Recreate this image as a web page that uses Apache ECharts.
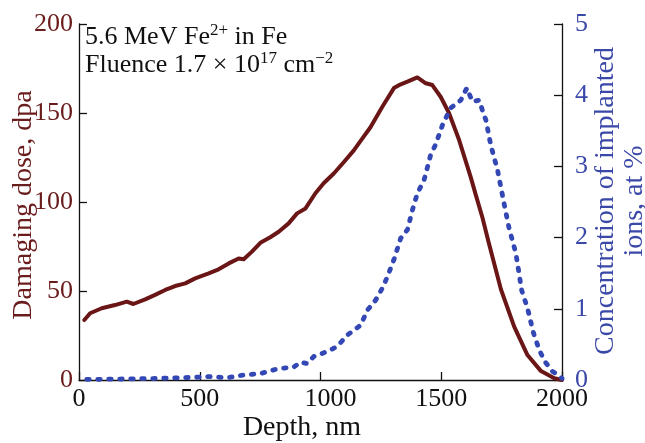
<!DOCTYPE html>
<html>
<head>
<meta charset="utf-8">
<script src="https://cdn.jsdelivr.net/npm/echarts@6/dist/echarts.min.js"></script>
<style>html,body{margin:0;padding:0;background:#fff;}#c{width:645px;height:443px;}</style>
</head>
<body>
<div id="c"></div>
<script>
// Damaging dose (dpa) vs depth (nm)
var doseDepth = [22, 46, 94, 149, 198, 225, 274, 315, 357, 398, 440, 481, 537, 578, 620, 661, 682, 716, 751, 792, 827, 868, 903, 938, 979, 1013, 1055, 1097, 1138, 1172, 1207, 1256, 1304, 1330, 1360, 1401, 1436, 1463, 1498, 1532, 1574, 1622, 1643, 1671, 1697, 1747, 1802, 1857, 1913, 1968, 2000];
var doseValues = [33.7, 37.5, 40.3, 42.1, 44, 42.7, 45.3, 47.8, 50.6, 52.8, 54.3, 57.1, 59.9, 62.2, 65.5, 68.3, 67.8, 72.1, 77.1, 80.2, 83.3, 88, 93.6, 96.4, 104.9, 110.5, 116, 122.5, 129, 135.5, 142, 153.5, 164, 166, 167.6, 170, 166.7, 165.7, 159, 150, 134.8, 114, 104, 91, 77, 51, 30, 14, 5, 1, 0];
// Concentration of implanted ions (at %) vs depth (nm)
var concDepth = [32, 100, 200, 300, 400, 500, 550, 613, 680, 751, 826, 889, 917, 945, 972, 1028, 1069, 1111, 1166, 1194, 1228, 1256, 1277, 1304, 1332, 1360, 1380, 1401, 1429, 1456, 1477, 1505, 1539, 1581, 1606, 1629, 1657, 1677, 1685, 1705, 1733, 1760, 1781, 1809, 1833, 1857, 1882, 1906, 1929, 1961, 1993, 2000];
var concValues = [0.01, 0.01, 0.015, 0.02, 0.03, 0.04, 0.05, 0.03, 0.07, 0.09, 0.16, 0.18, 0.25, 0.23, 0.33, 0.4, 0.47, 0.63, 0.77, 0.98, 1.12, 1.29, 1.45, 1.69, 1.99, 2.11, 2.38, 2.62, 2.81, 3.16, 3.31, 3.58, 3.82, 3.93, 4.1, 3.91, 3.93, 3.72, 3.65, 3.3, 2.95, 2.48, 2.13, 1.78, 1.26, 1.01, 0.66, 0.42, 0.26, 0.12, 0.05, 0.02];
var xTicks = [0, 500, 1000, 1500, 2000];
var leftTicks = [0, 50, 100, 150, 200];
var rightTicks = [0, 1, 2, 3, 4, 5];

var FONT = 'Liberation Serif';
var RED = '#6b1616';
var BLUE = '#3348b4';
var RED_TXT = '#6a1c1c';
var BLUE_TXT = '#3a48a8';

function pairs(xs, ys) { return xs.map(function (x, i) { return [x, ys[i]]; }); }

var chart = echarts.init(document.getElementById('c'), null, { renderer: 'canvas' });
var option = {
  animation: false,
  backgroundColor: '#fff',
  grid: { left: 79, right: 83, top: 24, bottom: 63, containLabel: false },
  xAxis: {
    type: 'value', min: xTicks[0], max: xTicks[xTicks.length - 1], interval: 500,
    axisLine: { show: true, onZero: false, lineStyle: { color: '#111', width: 1.3 } },
    axisTick: { show: true, inside: true, length: 8, lineStyle: { color: '#111', width: 1.3 } },
    splitLine: { show: false },
    axisLabel: {
      fontFamily: FONT, fontSize: 26, color: '#111', margin: 6,
      formatter: function (v) { return v === 1000 ? '{o|1000}' : String(v); },
      rich: { o: { fontFamily: FONT, fontSize: 26, color: '#111', padding: [0, 0, 0, 20] } }
    }
  },
  yAxis: [{
    type: 'value', position: 'left', min: leftTicks[0], max: leftTicks[leftTicks.length - 1], interval: 50,
    axisLine: { show: true, onZero: false, lineStyle: { color: '#111', width: 1.3 } },
    axisTick: { show: true, inside: true, length: 8, lineStyle: { color: '#111', width: 1.3 } },
    splitLine: { show: false },
    axisLabel: { fontFamily: FONT, fontSize: 26, color: RED_TXT, margin: 6 }
  }, {
    type: 'value', position: 'right', min: rightTicks[0], max: rightTicks[rightTicks.length - 1], interval: 1,
    axisLine: { show: true, onZero: false, lineStyle: { color: '#111', width: 1.3 } },
    axisTick: { show: true, inside: true, length: 8, lineStyle: { color: '#111', width: 1.3 } },
    splitLine: { show: false },
    axisLabel: { fontFamily: FONT, fontSize: 26, color: BLUE_TXT, margin: 13 }
  }],
  series: [{
    type: 'line', yAxisIndex: 0, data: pairs(doseDepth, doseValues),
    showSymbol: false, symbol: 'none', z: 3,
    lineStyle: { color: RED, width: 4, join: 'round', cap: 'round' }
  }, {
    type: 'line', yAxisIndex: 1, data: pairs(concDepth, concValues),
    showSymbol: false, symbol: 'none', z: 4,
    lineStyle: { color: BLUE, width: 4.8, type: [2.5, 8.5], cap: 'round', join: 'round' }
  }],
  graphic: [
    { type: 'text', left: 85, top: 22, silent: true,
      style: { text: '{a|5.6 MeV Fe}{s|2+}{a| in Fe}', fill: '#111',
        rich: { a: { fontFamily: FONT, fontSize: 26, lineHeight: 30, fill: '#111' },
                s: { fontFamily: FONT, fontSize: 17, lineHeight: 17, verticalAlign: 'top', fill: '#111' } } } },
    { type: 'text', left: 85, top: 50, silent: true,
      style: { text: '{a|Fluence 1.7 × 10}{s|17}{a| cm}{s|−2}', fill: '#111',
        rich: { a: { fontFamily: FONT, fontSize: 26, lineHeight: 30, fill: '#111' },
                s: { fontFamily: FONT, fontSize: 17, lineHeight: 17, verticalAlign: 'top', fill: '#111' } } } },
    { type: 'text', x: 302, y: 428, silent: true,
      style: { text: 'Depth, nm', fontFamily: FONT, fontSize: 28, fill: '#111', align: 'center', verticalAlign: 'middle' } },
    { type: 'text', x: 24, y: 205, rotation: Math.PI / 2, silent: true,
      style: { text: 'Damaging dose, dpa', fontFamily: FONT, fontSize: 28, fill: RED_TXT, align: 'center', verticalAlign: 'middle' } },
    { type: 'text', x: 620, y: 201, rotation: Math.PI / 2, silent: true,
      style: { text: 'Concentration of implanted\nions, at %', fontFamily: FONT, fontSize: 28, lineHeight: 28.5, fill: BLUE_TXT, align: 'center', verticalAlign: 'middle' } }
  ]
};
chart.setOption(option);
</script>
</body>
</html>
